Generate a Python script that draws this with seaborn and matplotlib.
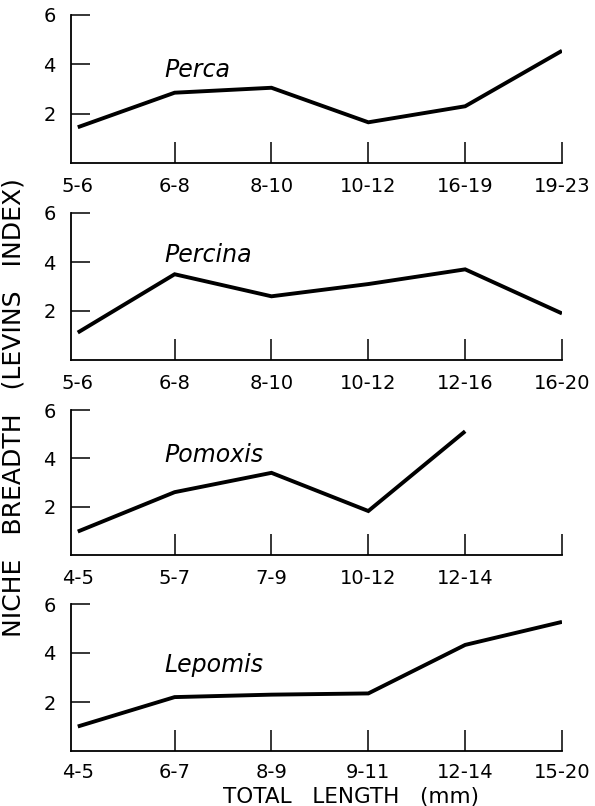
import numpy as np
import pandas as pd
import matplotlib
matplotlib.use("Agg")
import matplotlib.pyplot as plt
import seaborn as sns

# ---- data ----
perca_sizes = ["5-6", "6-8", "8-10", "10-12", "16-19", "19-23"]
perca_breadth = [1.45, 2.85, 3.05, 1.65, 2.3, 4.55]

percina_sizes = ["5-6", "6-8", "8-10", "10-12", "12-16", "16-20"]
percina_breadth = [1.12, 3.5, 2.6, 3.1, 3.7, 1.9]

pomoxis_sizes = ["4-5", "5-7", "7-9", "10-12", "12-14", ""]
pomoxis_breadth = [0.97, 2.6, 3.4, 1.82, 5.12, np.nan]

lepomis_sizes = ["4-5", "6-7", "8-9", "9-11", "12-14", "15-20"]
lepomis_breadth = [1.0, 2.2, 2.3, 2.35, 4.33, 5.27]

genera = ["Perca", "Percina", "Pomoxis", "Lepomis"]
y_ticks = [2, 4, 6]

panels = [
    (genera[0], perca_sizes, perca_breadth),
    (genera[1], percina_sizes, percina_breadth),
    (genera[2], pomoxis_sizes, pomoxis_breadth),
    (genera[3], lepomis_sizes, lepomis_breadth),
]

sns.set_style("ticks")
plt.rcParams["font.family"] = ["DejaVu Sans"]

fig = plt.figure(figsize=(5.95, 8.06), dpi=100)

left, width = 71 / 595, 491 / 595
# (bottom, height) in figure fraction
boxes = [(1 - 163 / 806, 148 / 806),
         (1 - 360 / 806, 147 / 806),
         (1 - 555 / 806, 145 / 806),
         (1 - 751 / 806, 147 / 806)]
label_y = [3.77, 4.3, 4.14, 3.5]

for i, ((name, sizes, vals), (b, h), ly) in enumerate(zip(panels, boxes, label_y)):
    ax = fig.add_axes([left, b, width, h])
    df = pd.DataFrame({"pos": np.arange(len(sizes)), "breadth": vals})
    sns.lineplot(data=df, x="pos", y="breadth", ax=ax, color="black",
                 linewidth=2.8, solid_capstyle="butt", solid_joinstyle="miter")
    ax.set_xlim(-0.07, len(sizes) - 1)
    ax.set_ylim(0, 6)
    ax.set_xticks(np.arange(len(sizes)))
    ax.set_xticklabels(sizes)
    ax.set_yticks(y_ticks)
    ax.set_yticklabels([str(t) for t in y_ticks])
    ax.set_xlabel("")
    ax.set_ylabel("")
    for s in ["top", "right"]:
        ax.spines[s].set_visible(False)
    for s in ["left", "bottom"]:
        ax.spines[s].set_linewidth(1.3)
        ax.spines[s].set_color("black")
    ax.tick_params(axis="x", direction="in", length=15, width=1.1,
                   labelsize=14, pad=9 if i == 3 else 10, colors="black")
    ax.tick_params(axis="y", direction="in", length=14, width=1.1,
                   labelsize=14, pad=11, colors="black")
    ax.xaxis.get_major_ticks()[0].tick1line.set_visible(False)
    ax.text(0.89, ly, name, style="italic", fontsize=17, ha="left",
            va="center", color="black")
    ax.set_facecolor("white")

fig.text(14 / 595, 1 - 408 / 806, "NICHE   BREADTH   (LEVINS   INDEX)",
         rotation=90, ha="center", va="center", fontsize=18, color="black")
fig.text(351 / 595, 1 - 803 / 806, "TOTAL   LENGTH   (mm)", ha="center",
         va="baseline", fontsize=15.5, color="black")

fig.savefig("out.png", dpi=100, facecolor="white")
